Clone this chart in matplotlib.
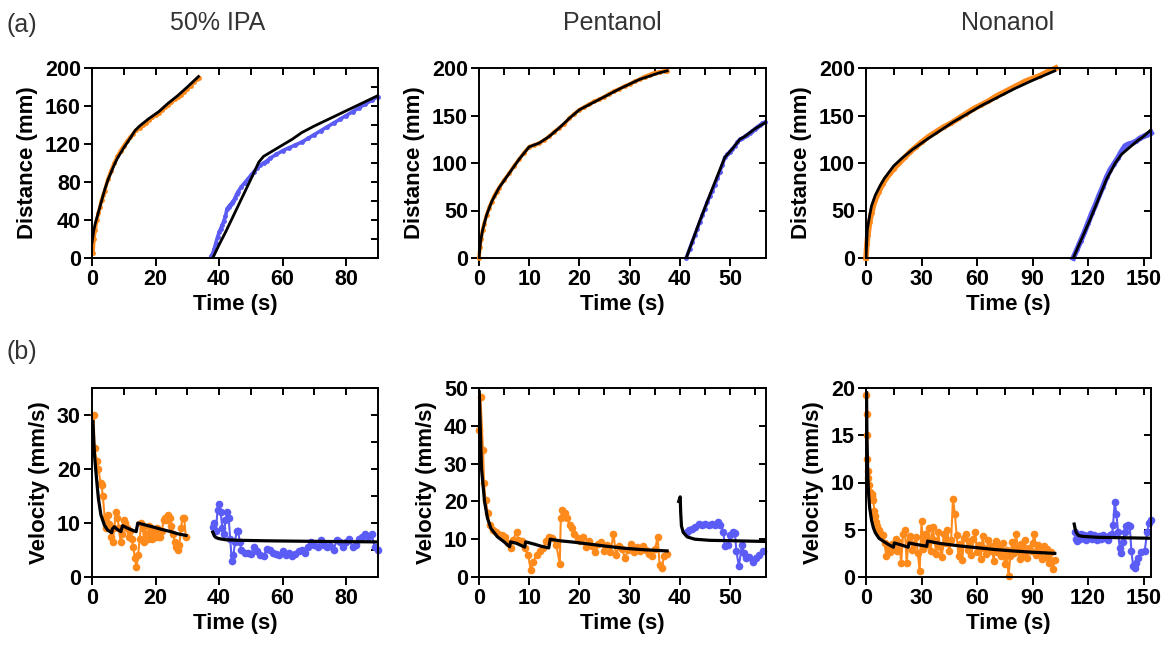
import numpy as np
import matplotlib
matplotlib.use("Agg")
from matplotlib import pyplot as plt
from matplotlib.ticker import MultipleLocator

ORANGE = "#ff8a1c"
BLUE = "#5b5bf5"

# ---- (a) distance, 50% IPA ----
ipa_dist_orange = [(0.3, 5), (0.6, 20), (1, 30), (1.5, 40), (2, 47), (2.5, 54), (3, 61), (3.5, 66),
                   (4, 71), (5, 83), (6, 92), (7, 100), (8, 107), (9, 113), (10, 118), (11, 123),
                   (12, 127), (13, 131), (14, 135), (15, 137), (16, 140), (17, 142), (18, 145),
                   (19, 148), (20, 151), (21, 153), (22, 156), (23, 159), (24, 161), (25, 164),
                   (26, 167), (27, 169), (28, 172), (29, 175), (30, 178), (31, 181), (32, 185),
                   (33, 188), (33.7, 190)]
ipa_dist_fit1 = [(0, 16), (0.5, 28), (1, 36), (1.5, 42), (2, 48), (3, 60), (4, 72), (5, 82), (6, 90),
                 (7, 98), (8, 105), (10, 116), (12, 126), (13.5, 134), (15, 139), (18, 147), (21, 154),
                 (24, 163), (27, 171), (30, 180), (33.5, 191)]
ipa_dist_blue = [(37.5, 2), (38, 5), (38.5, 10), (39, 16), (39.5, 22), (40, 27), (40.5, 31), (41, 35),
                 (41.5, 39), (42, 44), (42.5, 52), (43, 54), (43.5, 56), (44, 58), (44.5, 60), (45, 63),
                 (45.5, 67), (46, 70), (47, 75), (48, 79), (49, 83), (50, 87), (51, 91), (52, 95),
                 (53, 98), (54, 100), (55, 102), (56, 105), (58, 109), (60, 113), (62, 116), (64, 119),
                 (66, 122), (68, 126), (70, 130), (72, 134), (74, 138), (76, 142), (78, 146), (80, 150),
                 (82, 154), (84, 158), (86, 162), (88, 166), (90, 170)]
ipa_dist_fit2 = [(38, 0), (40, 14), (42, 27), (44, 41), (46, 55), (48, 69), (50, 83), (52.5, 101),
                 (54, 107), (56, 111), (58, 115), (60, 119), (63, 125), (66, 132), (70, 139), (75, 147),
                 (80, 155), (85, 163), (90, 171)]

# ---- (a) distance, Pentanol ----
pent_dist_orange = [(0, 0), (0.2, 12), (0.4, 20), (0.7, 29), (1, 36), (1.5, 45), (2, 53), (2.5, 59),
                    (3, 65), (3.5, 70), (4, 74), (5, 82), (6, 89), (7, 97), (8, 104), (9, 111), (10, 117),
                    (11, 119), (12, 121), (13, 124), (14, 128), (15, 133), (16, 137), (17, 141), (18, 147),
                    (19, 152), (20, 156), (21, 159), (22, 162), (23, 165), (24, 167), (25, 170), (26, 173),
                    (27, 176), (28, 178), (29, 181), (30, 183), (31, 186), (32, 188), (33, 191), (34, 193),
                    (35, 195), (36, 196), (37, 197), (37.5, 197)]
pent_dist_fit1 = [(0, 0), (0.3, 17), (0.7, 29), (1.5, 45), (2.5, 59), (4, 74), (6, 89), (8, 104),
                  (10, 117), (12, 121), (14, 128), (16, 137), (18, 147), (20, 156), (24, 167), (28, 178),
                  (32, 188), (36, 195), (37.5, 197)]
pent_dist_blue = [(41.3, 0), (42, 10), (42.5, 17), (43, 24), (43.5, 31), (44, 38), (44.5, 45), (45, 52),
                  (45.5, 59), (46, 65), (46.5, 71), (47, 77), (47.5, 84), (48, 91), (48.5, 98), (49, 106),
                  (49.5, 109), (50, 112), (50.5, 115), (51, 118), (51.5, 122), (52, 125), (52.5, 126),
                  (53, 128), (53.5, 130), (54, 132), (54.5, 134), (55, 136), (55.5, 138), (56, 140),
                  (56.5, 142), (57, 143)]
pent_dist_fit2 = [(41.3, 0), (44, 39), (46.5, 73), (49, 106), (50.5, 115), (52, 125), (53, 128),
                  (55, 136), (57.2, 143)]

# ---- (a) distance, Nonanol ----
non_dist_orange = [(0, 0), (0.5, 15), (1, 24), (2, 38), (3, 47), (4, 55), (5, 61), (7, 70), (9, 78),
                   (11, 84), (13, 89), (15, 94), (18, 100), (21, 106), (24, 112), (27, 117), (30, 122),
                   (34, 128), (38, 133), (42, 138), (46, 142), (50, 147), (54, 152), (58, 157), (62, 161),
                   (66, 165), (70, 170), (74, 174), (78, 178), (82, 182), (86, 186), (90, 189), (94, 192),
                   (98, 196), (102.5, 200)]
non_dist_fit1 = [(0, 0), (0.7, 30), (2, 45), (3, 55), (5, 66), (7.6, 76), (10, 84), (15, 97), (20, 106),
                 (25, 114), (33, 125), (40, 134), (47, 143), (55, 152), (62, 160), (70, 168), (80, 178),
                 (90, 187), (102, 197)]
non_dist_blue = [(112, 0), (114, 9), (116, 18), (118, 27), (120, 37), (122, 47), (124, 56), (126, 66),
                 (128, 75), (130, 85), (132, 93), (134, 99), (136, 105), (138, 112), (140, 118),
                 (142, 120), (144, 121), (146, 123), (148, 126), (150, 128), (152, 130), (154, 132)]
non_dist_fit2 = [(112, 0), (121, 40), (130, 83), (134.7, 100), (138, 109), (141, 114), (146.4, 123),
                 (150, 128), (154, 135)]

# ---- (b) velocity, 50% IPA ----
ipa_vel_orange = [(0.5, 30), (0.8, 23.8), (1.5, 21.5), (2, 20), (2.7, 17.5), (3, 17), (3.4, 15),
                  (4, 11), (4.5, 9), (5, 11.5), (5.5, 9.8), (6, 7.5), (6.5, 6.5), (7, 9), (7.5, 12),
                  (8, 11), (8.5, 9), (9, 6.5), (9.5, 8), (10, 10.5), (10.5, 10), (11, 9), (11.5, 7.5),
                  (12, 8.5), (12.5, 7), (13, 5.5), (13.5, 3.5), (14, 1.8), (14.5, 4), (15, 7), (15.5, 10),
                  (16, 9), (16.5, 6.5), (17, 8), (17.5, 7), (18, 9.5), (18.5, 8), (19, 7), (19.5, 8.5),
                  (20, 7.5), (20.5, 9), (21, 7.5), (21.5, 7.5), (22, 8.5), (22.5, 10.5), (23, 11),
                  (23.5, 10.5), (24, 11.5), (24.5, 11), (25, 9.5), (25.5, 8), (26, 6.5), (26.5, 5.5),
                  (27, 5), (27.5, 6), (28, 9), (28.5, 11), (29, 11), (29.5, 7.5)]
ipa_vel_fit1 = [(0.3, 28.8), (0.5, 26), (0.8, 22.5), (1.3, 19), (2, 14.6), (2.8, 11.5), (3.9, 9.6),
                (4.9, 8.7), (6.2, 8.2), (6.4, 8.9), (7, 9.3), (8, 8.8), (9.1, 8.4), (9.6, 9.5), (11, 9.1),
                (12.5, 8.7), (13.9, 8.4), (14.4, 10), (17, 9.6), (19.6, 9.2), (22, 8.8), (24.8, 8.4),
                (27, 8), (29.6, 7.7)]
ipa_vel_blue = [(38, 9.3), (38.5, 10), (39, 8.5), (39.5, 12.5), (40, 13.5), (40.5, 12), (41, 9), (41.5, 8),
                (42, 10.5), (42.5, 12), (43, 11), (43.5, 7), (44, 3), (44.5, 4), (45, 6.5), (45.5, 8.5),
                (46, 8.5), (46.5, 6.5), (47, 5), (48, 4.5), (49, 4.5), (50, 4.2), (51, 5.5), (52, 4.8),
                (53, 4), (54, 3.8), (55, 5.2), (56, 5), (57, 4.5), (58, 4.2), (59, 4), (60, 4.8), (61, 4),
                (62, 4.5), (63, 3.8), (64, 4.2), (65, 4.8), (66, 5), (67, 4.5), (68, 5.5), (69, 6.5),
                (70, 6), (71, 5.5), (72, 6.8), (73, 6), (74, 5.5), (75, 5.8), (76, 5), (77, 6.8),
                (78, 6.5), (79, 5.5), (80, 6.5), (81, 7), (82, 5.5), (83, 6), (84, 7), (85, 7.5), (86, 8),
                (87, 7.5), (88, 8), (89, 5.5), (90, 5)]
ipa_vel_fit2 = [(38, 8.3), (38.5, 7.6), (39, 7.3), (40, 7.1), (42, 6.9), (46, 6.8), (55, 6.7), (70, 6.6),
                (90, 6.5)]

# ---- (b) velocity, Pentanol ----
pent_vel_orange = [(0.05, 38.8), (0.3, 47.6), (0.8, 33.6), (1.0, 24.8), (1.3, 20.3), (1.8, 16.8),
                   (2.1, 13.8), (2.8, 12.4), (3.3, 12), (3.8, 11.5), (4.5, 11), (5.2, 10.7), (5.8, 8.9),
                   (6.3, 7.6), (6.8, 9.8), (7.5, 12), (7.8, 9.8), (8.5, 9.4), (9.1, 7.6), (9.8, 5.9),
                   (10.3, 1.8), (10.8, 4), (11.5, 5.9), (12.1, 6.8), (12.8, 7.6), (13.4, 9.4),
                   (13.9, 10.7), (14.6, 10.2), (15.4, 8.5), (16.1, 3.5), (16.3, 15.5), (16.6, 17.7),
                   (17.1, 16.8), (17.6, 15.5), (18.1, 13.7), (18.5, 12.9), (19.0, 11.5), (19.7, 10.2),
                   (20.2, 9.4), (20.7, 10.7), (21.3, 8), (22, 9.5), (22.6, 8.2), (23.2, 6.5), (23.8, 8.6),
                   (24.4, 9.2), (25, 7), (25.6, 8.4), (26.2, 6.6), (26.8, 11.5), (27.3, 5.8), (27.9, 8.1),
                   (28.5, 7.3), (29.1, 5.1), (29.7, 7.1), (30.3, 8.7), (30.9, 6.5), (31.5, 7.9),
                   (32.1, 6.9), (32.7, 8.2), (33.3, 7.1), (33.9, 6.2), (34.5, 5.6), (35.1, 7.4),
                   (35.6, 10.6), (36, 3.1), (36.4, 2.5), (36.9, 5.5), (37.4, 6)]
pent_vel_fit1 = [(0.05, 49), (0.2, 42), (0.5, 28.7), (1.1, 20), (1.7, 15.5), (2.4, 12.8), (3.7, 10.6),
                 (5, 9.3), (6.1, 8.0), (6.3, 9.3), (7.5, 8.9), (9.1, 7.9), (9.3, 9.3), (11, 8.7),
                 (12.5, 8.1), (13.9, 7.7), (14.2, 10.0), (16, 9.6), (19, 9.2), (22, 8.7), (25, 8.2),
                 (29, 7.6), (33, 7.2), (37.5, 6.9)]
pent_vel_blue = [(41.4, 12.0), (41.8, 12.4), (42.5, 12.8), (43.1, 13.3), (43.8, 14.1), (44.4, 13.7),
                 (45.1, 14.1), (45.8, 13.7), (46.4, 14.1), (47.1, 13.7), (47.7, 14.5), (48.1, 13.7),
                 (48.7, 12.0), (49.0, 8.1), (49.7, 8.5), (50.0, 11.1), (50.7, 12.0), (51.0, 11.6),
                 (51.3, 6.8), (51.8, 2.8), (52.4, 8.5), (52.8, 6.3), (53.3, 5.1), (53.9, 5.4),
                 (54.6, 4.1), (55.3, 5.1), (55.9, 5.9), (56.6, 6.8)]
pent_vel_fit2 = [(39.8, 20), (40.1, 21.2), (40.2, 17), (40.35, 13.5), (40.7, 11.8), (41.5, 10.6),
                 (43, 10), (46, 9.7), (50, 9.6), (57.2, 9.4)]

# ---- (b) velocity, Nonanol ----
non_vel_orange = [(0.2, 19.3), (0.4, 17.3), (0.6, 15.0), (0.8, 12.5), (1.0, 11.2), (1.3, 10.5),
                  (1.6, 9.7), (2.0, 9.0), (2.5, 8.7), (3.0, 8.6), (3.5, 8.8), (4.0, 8.1), (4.5, 7.0),
                  (5.0, 6.5), (5.5, 5.8), (6, 5.4), (7, 5.0), (8, 4.6), (9, 4.4), (10, 3.6), (11, 2.2),
                  (12, 3.2), (13, 2.6), (14, 3.5), (15, 3.1), (16, 4.0), (17, 2.8), (18, 3.7), (19, 1.5),
                  (20, 4.5), (21, 5.0), (22, 1.5), (23, 3.8), (24, 4.3), (25, 2.9), (26, 3.5), (27, 4.2),
                  (28, 2.5), (29, 0.6), (30, 5.9), (31, 3.0), (32, 4.6), (33, 3.4), (34, 5.2), (35, 2.8),
                  (36, 5.3), (37, 3.9), (38, 2.4), (39, 4.8), (40, 3.2), (41, 2.1), (42, 4.5), (43, 3.6),
                  (44, 5.0), (45, 2.7), (46, 3.9), (47, 8.3), (48, 6.7), (49, 4.4), (50, 2.2), (51, 3.5),
                  (52, 1.8), (53, 4.1), (54, 4.6), (55, 2.9), (56, 3.8), (57, 2.3), (58, 4.0), (59, 4.8),
                  (60, 2.6), (61, 3.4), (62, 1.9), (63, 4.3), (64, 3.1), (65, 2.4), (66, 3.9), (67, 2.8),
                  (68, 3.3), (69, 1.7), (70, 3.8), (71, 2.6), (72, 3.4), (73, 2.2), (74, 3.6), (75, 1.4),
                  (76, 2.9), (77, 0.1), (78, 2.2), (79, 3.7), (80, 2.5), (81, 4.6), (82, 3.2), (83, 1.9),
                  (84, 3.5), (85, 2.4), (86, 3.9), (87, 2.0), (88, 3.1), (89, 2.7), (90, 3.6), (91, 4.6),
                  (92, 2.3), (93, 3.4), (94, 2.9), (95, 1.9), (96, 3.3), (97, 2.1), (98, 3.0), (99, 1.5),
                  (100, 2.6), (101, 0.8), (102, 1.8)]
non_vel_fit1 = [(0.3, 19.5), (0.5, 15), (1, 10.5), (1.5, 8.5), (2, 7.3), (3, 6), (4, 5.2), (5, 4.7),
                (7, 4.1), (10, 3.7), (12.5, 3.4), (14.8, 3.15), (15.3, 3.6), (18, 3.45), (20.5, 3.3),
                (22.8, 3.15), (23.3, 3.6), (27, 3.45), (30, 3.35), (32.8, 3.25), (33.3, 3.8), (40, 3.55),
                (50, 3.3), (60, 3.1), (70, 2.9), (80, 2.75), (90, 2.62), (102, 2.5)]
non_vel_blue = [(113, 4.8), (113.6, 4.0), (114.2, 3.8), (114.8, 4.2), (115.4, 4.0), (116, 4.5), (117, 4.1),
                (118, 4.4), (119, 3.9), (120, 4.3), (121, 4.5), (122, 4.0), (123, 4.4), (124, 4.1),
                (125, 3.9), (126, 4.3), (127, 4.0), (128, 4.4), (129, 4.1), (130, 4.2), (131, 3.9),
                (132, 4.4), (133, 4.6), (133.5, 5.5), (134.4, 7.9), (135.3, 6.7), (136.2, 4.8),
                (137.1, 3.1), (138, 2.5), (138.9, 3.7), (139.8, 4.8), (140.7, 5.4), (141.6, 5.5),
                (142.5, 5.4), (143.4, 2.8), (144.3, 1.2), (145.2, 1.0), (146.1, 1.5), (147, 2.0),
                (148.8, 2.6), (150.6, 2.8), (152, 4.8), (152.9, 5.7), (153.8, 6.0)]
non_vel_fit2 = [(112.5, 5.6), (113, 5.1), (113.6, 4.7), (114.8, 4.4), (117, 4.3), (125, 4.2),
                (140, 4.15), (154, 4.1)]

titles = ["50% IPA", "Pentanol", "Nonanol"]

plt.rcParams["font.family"] = ["Liberation Sans", "DejaVu Sans"]
plt.rcParams["font.weight"] = "bold"
plt.rcParams["axes.linewidth"] = 1.4

fig = plt.figure(figsize=(11.67, 6.47), dpi=100)
W, H = 1167, 647


def px_axes(left, top, right, bottom):
    return fig.add_axes([left / W, 1 - bottom / H, (right - left) / W, (bottom - top) / H])


def style(ax, xlim, ylim, xmaj, xtop, ymaj, yright, ylabel):
    ax.set_xlim(*xlim)
    ax.set_ylim(*ylim)
    ax.xaxis.set_major_locator(MultipleLocator(xmaj))
    ax.xaxis.set_minor_locator(MultipleLocator(xtop))
    ax.yaxis.set_major_locator(MultipleLocator(ymaj))
    ax.yaxis.set_minor_locator(MultipleLocator(yright))
    ax.xaxis.remove_overlapping_locs = False
    ax.yaxis.remove_overlapping_locs = False
    ax.tick_params(which="major", direction="out", length=6, width=1.4, labelsize=15.5, pad=2,
                   bottom=True, left=True, top=False, right=False)
    ax.tick_params(which="minor", direction="in", length=5, width=1.4,
                   bottom=False, left=False, top=True, right=True)
    ax.set_xlabel("Time (s)", fontsize=16, fontweight="bold", labelpad=3)
    ax.set_ylabel(ylabel, fontsize=16, fontweight="bold", labelpad=5)


def pts(series):
    arr = np.array(series, dtype=float)
    return arr[:, 0], arr[:, 1]


def draw_dist(ax, orange, fit1, blue, fit2, lw_data=2.6):
    for data, col in ((orange, ORANGE), (blue, BLUE)):
        x, y = pts(data)
        ax.plot(x, y, "-o", color=col, lw=lw_data, ms=3.5, mew=0, zorder=2, clip_on=False)
    for fit in (fit1, fit2):
        x, y = pts(fit)
        ax.plot(x, y, "-", color="black", lw=2.0, zorder=3)


def draw_vel(ax, orange, fit1, blue, fit2):
    for data, col in ((orange, ORANGE), (blue, BLUE)):
        x, y = pts(data)
        ax.plot(x, y, "-o", color=col, lw=1.5, ms=5.5, mew=0, zorder=2, clip_on=False)
    for fit in (fit1, fit2):
        x, y = pts(fit)
        ax.plot(x, y, "-", color="black", lw=2.3, zorder=3)


lefts = [92, 479, 866]
rights = [378, 766, 1151]

a1 = px_axes(lefts[0], 68, rights[0], 258)
draw_dist(a1, ipa_dist_orange, ipa_dist_fit1, ipa_dist_blue, ipa_dist_fit2)
style(a1, (0, 90), (0, 200), 20, 10, 40, 20, "Distance (mm)")

a2 = px_axes(lefts[1], 68, rights[1], 258)
draw_dist(a2, pent_dist_orange, pent_dist_fit1, pent_dist_blue, pent_dist_fit2)
style(a2, (0, 57.2), (0, 200), 10, 5, 50, 50, "Distance (mm)")

a3 = px_axes(lefts[2], 68, rights[2], 258)
draw_dist(a3, non_dist_orange, non_dist_fit1, non_dist_blue, non_dist_fit2, lw_data=4.0)
style(a3, (0, 154), (0, 200), 30, 15, 50, 50, "Distance (mm)")

b1 = px_axes(lefts[0], 388, rights[0], 577)
draw_vel(b1, ipa_vel_orange, ipa_vel_fit1, ipa_vel_blue, ipa_vel_fit2)
style(b1, (0, 90), (0, 35), 20, 10, 10, 5, "Velocity (mm/s)")

b2 = px_axes(lefts[1], 388, rights[1], 577)
draw_vel(b2, pent_vel_orange, pent_vel_fit1, pent_vel_blue, pent_vel_fit2)
style(b2, (0, 57.2), (0, 50), 10, 5, 10, 10, "Velocity (mm/s)")

b3 = px_axes(lefts[2], 388, rights[2], 577)
draw_vel(b3, non_vel_orange, non_vel_fit1, non_vel_blue, non_vel_fit2)
style(b3, (0, 154), (0, 20), 30, 15, 5, 5, "Velocity (mm/s)")

for cx, title in zip([217.5, 612, 1007.5], titles):
    fig.text(cx / W, 1 - 23 / H, title, fontsize=18, fontweight="normal", color="#333333",
             ha="center", va="center")
fig.text(7 / W, 1 - 25 / H, "(a)", fontsize=18, fontweight="normal", color="#333333", va="center")
fig.text(7 / W, 1 - 352 / H, "(b)", fontsize=18, fontweight="normal", color="#333333", va="center")

fig.savefig("out.png", dpi=100)
